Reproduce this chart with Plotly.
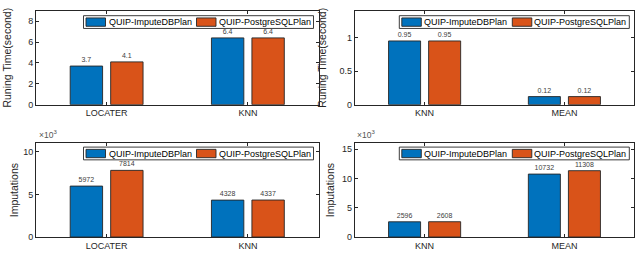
import plotly.graph_objects as go

W, H = 639, 259

# ---------------- data ----------------
series_names = ["QUIP-ImputeDBPlan", "QUIP-PostgreSQLPlan"]
colors = ["#0072BD", "#D95319"]

tl_categories = ["LOCATER", "KNN"]
tl_impute = [3.7, 6.4]
tl_postgres = [4.1, 6.4]
tl_labels_impute = ["3.7", "6.4"]
tl_labels_postgres = ["4.1", "6.4"]

tr_categories = ["KNN", "MEAN"]
tr_impute = [0.95, 0.12]
tr_postgres = [0.95, 0.12]
tr_labels_impute = ["0.95", "0.12"]
tr_labels_postgres = ["0.95", "0.12"]

bl_categories = ["LOCATER", "KNN"]
bl_impute = [5972, 4328]
bl_postgres = [7814, 4337]

br_categories = ["KNN", "MEAN"]
br_impute = [2596, 10732]
br_postgres = [2608, 11308]

top_ylabel = "Runing Time(second)"
bottom_ylabel = "Imputations"

tl_yticks = [0, 2, 4, 6, 8]
tr_yticks = [0, 0.5, 1]
tr_yticktext = ["0", "0.5", "1"]
bl_yticks = [0, 5000, 10000]
bl_yticktext = ["0", "5", "10"]
br_yticks = [0, 5000, 10000, 15000]
br_yticktext = ["0", "5", "10", "15"]

# ---------------- layout helpers ----------------
AX = "#262626"
FONT = "Liberation Sans, Arial, Helvetica, sans-serif"

boxes = {  # pixel boxes: x0, x1, y0(top), y1(bottom)
    "1": (36, 318.5, 11, 106.7),
    "2": (354.7, 634.3, 11, 106.7),
    "3": (36, 318.5, 146, 241.7),
    "4": (354.7, 634.3, 146, 241.7),
}

def px(x):
    return x / W

def py(y):
    return 1 - y / H

fig = go.Figure()

panels = [
    ("1", tl_categories, tl_impute, tl_postgres, tl_labels_impute, tl_labels_postgres),
    ("2", tr_categories, tr_impute, tr_postgres, tr_labels_impute, tr_labels_postgres),
    ("3", bl_categories, bl_impute, bl_postgres, [str(v) for v in bl_impute], [str(v) for v in bl_postgres]),
    ("4", br_categories, br_impute, br_postgres, [str(v) for v in br_impute], [str(v) for v in br_postgres]),
]

for key, cats, v1, v2, t1, t2 in panels:
    xa = "x" if key == "1" else "x" + key
    ya = "y" if key == "1" else "y" + key
    for name, vals, txt, col in [(series_names[0], v1, t1, colors[0]),
                                 (series_names[1], v2, t2, colors[1])]:
        fig.add_trace(go.Bar(
            x=cats, y=vals, name=name, text=txt, textposition="outside",
            textfont=dict(size=7, color="#404040", family=FONT),
            marker=dict(color=col, line=dict(color="#262626", width=0.9)),
            xaxis=xa, yaxis=ya, showlegend=False, cliponaxis=False,
        ))

yranges = {"1": [0, 9], "2": [0, 1.4], "3": [0, 11000], "4": [0, 16000]}
ytv = {"1": (tl_yticks, [str(v) for v in tl_yticks]),
       "2": (tr_yticks, tr_yticktext),
       "3": (bl_yticks, bl_yticktext),
       "4": (br_yticks, br_yticktext)}
ytitles = {"1": top_ylabel, "2": top_ylabel, "3": bottom_ylabel, "4": bottom_ylabel}
ystandoff = {"1": 14, "2": 10, "3": 2, "4": 5}

common = dict(showline=True, linecolor=AX, linewidth=1, mirror="allticks",
              ticks="inside", ticklen=3, tickcolor=AX, tickwidth=1,
              showgrid=False, zeroline=False,
              tickfont=dict(size=9, color=AX, family=FONT))

layout = dict(width=W, height=H, margin=dict(l=0, r=0, t=0, b=0),
              autosize=False, plot_bgcolor="white", paper_bgcolor="white",
              barmode="group", bargap=0.427, bargroupgap=0.2,
              font=dict(family=FONT, color=AX))

shapes = []
annotations = []
for key, (x0, x1, y0, y1) in boxes.items():
    xname = "xaxis" if key == "1" else "xaxis" + key
    yname = "yaxis" if key == "1" else "yaxis" + key
    ya = "y" if key == "1" else "y" + key
    xa = "x" if key == "1" else "x" + key
    layout[xname] = dict(domain=[px(x0), px(x1)], anchor=ya, range=[-0.5, 1.5],
                         type="category", **common)
    tv, tt = ytv[key]
    layout[yname] = dict(domain=[py(y1), py(y0)], anchor=xa, range=yranges[key],
                         tickvals=tv, ticktext=tt,
                         title=dict(text=ytitles[key], font=dict(size=10.5, color=AX, family=FONT),
                                    standoff=ystandoff[key]),
                         **common)
    # legend (drawn manually, MATLAB style)
    off = 5 if key in ("1", "2") else 4
    L = x1 - 5 - 230
    T = y0 + off
    shapes.append(dict(type="rect", xref="paper", yref="paper",
                       x0=px(L), x1=px(L + 230), y0=py(T + 13), y1=py(T),
                       line=dict(color=AX, width=0.9), fillcolor="white", layer="above"))
    for i, (sx, tx) in enumerate([(2.5, 23), (113, 133)]):
        shapes.append(dict(type="rect", xref="paper", yref="paper",
                           x0=px(L + sx), x1=px(L + sx + 19.5), y0=py(T + 10.8), y1=py(T + 2.3),
                           line=dict(color="#262626", width=0.9), fillcolor=colors[i], layer="above"))
        annotations.append(dict(xref="paper", yref="paper", x=px(L + tx), y=py(T + 6.6),
                                xanchor="left", yanchor="middle", showarrow=False,
                                text=series_names[i],
                                font=dict(size=9, color="#000000", family=FONT)))
    if key in ("3", "4"):
        annotations.append(dict(xref="paper", yref="paper", x=px(x0 + 0.5), y=py(y0 - 1),
                                xanchor="left", yanchor="bottom", showarrow=False,
                                text="×10<sup>3</sup>",
                                font=dict(size=8.5, color="#555555", family=FONT)))

layout["shapes"] = shapes
layout["annotations"] = annotations
fig.update_layout(**layout)

fig.write_html("out.html", config={"displayModeBar": False},
               post_script="document.body.style.margin='0px';")
